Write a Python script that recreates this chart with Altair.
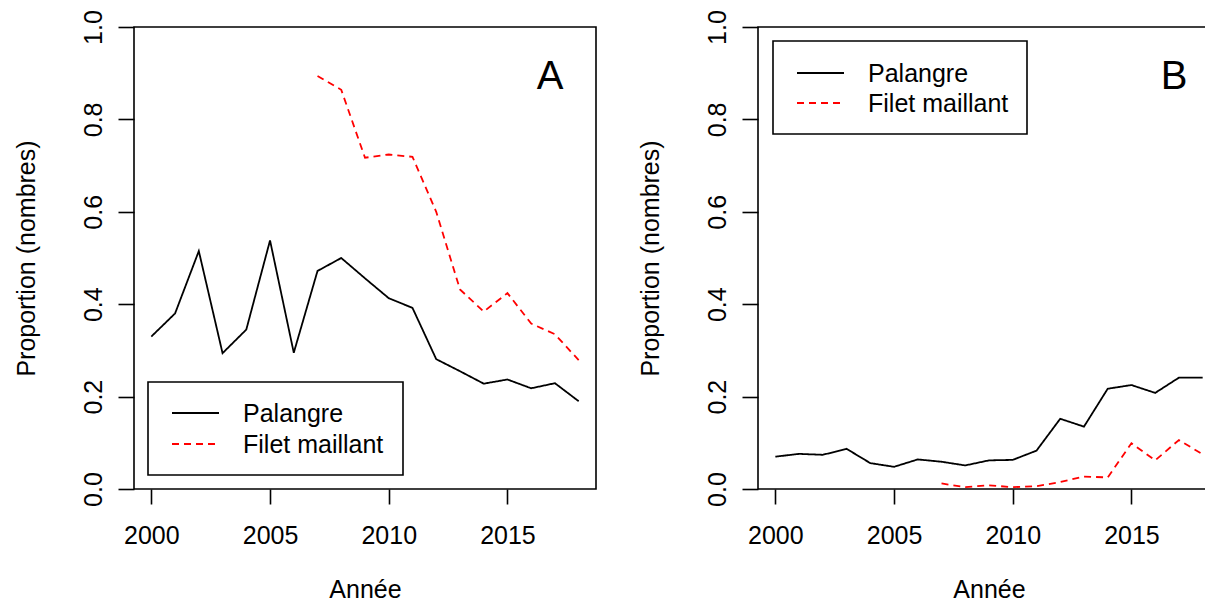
import altair as alt
import pandas as pd

FONT = "Liberation Sans"

years = list(range(2000, 2019))
filet_years = list(range(2007, 2019))
series_labels = ["Palangre", "Filet maillant"]
series_colors = ["black", "red"]
series_dash = [[1, 0], [7, 5]]
panel_labels = ["A", "B"]
x_ticks = [2000, 2005, 2010, 2015]
y_ticks = [0.0, 0.2, 0.4, 0.6, 0.8, 1.0]

a_palangre = [0.330, 0.380, 0.515, 0.294, 0.345, 0.538, 0.295, 0.472, 0.500, 0.456,
              0.413, 0.392, 0.281, 0.255, 0.228, 0.237, 0.218, 0.229, 0.190]
a_filet = [0.894, 0.864, 0.717, 0.724, 0.719, 0.600, 0.432, 0.384, 0.424, 0.358, 0.335, 0.279]

b_palangre = [0.070, 0.076, 0.074, 0.087, 0.056, 0.048, 0.064, 0.059, 0.051, 0.062,
              0.063, 0.083, 0.152, 0.135, 0.217, 0.225, 0.208, 0.241, 0.241]
b_filet = [0.012, 0.004, 0.008, 0.004, 0.006, 0.015, 0.027, 0.025, 0.099, 0.062, 0.106, 0.075]

W, H = 462, 462


def panel_df(pal, fil):
    rows = [{"year": y, "value": v, "series": series_labels[0]} for y, v in zip(years, pal)]
    rows += [{"year": y, "value": v, "series": series_labels[1]} for y, v in zip(filet_years, fil)]
    return pd.DataFrame(rows)


def make_panel(df, label, legend_box, legend_rows_y, anchor=False):
    x_axis = alt.Axis(values=x_ticks, format="d", title="Année", labelFontSize=25,
                      titleFontSize=25, titleFontWeight="normal", tickSize=15,
                      labelPadding=19, labelFlush=False, labelOverlap=False,
                      titleBaseline="alphabetic", titleY=108, titleX=W / 2,
                      titleAlign="center", grid=False, domain=False)
    y_axis = alt.Axis(values=y_ticks, format=".1f", title="Proportion (nombres)",
                      labelFontSize=25, titleFontSize=25, titleFontWeight="normal",
                      tickSize=16, labelPadding=17, labelAngle=270, labelAlign="center",
                      labelBaseline="alphabetic", labelFlush=False, labelOverlap=False,
                      titleAngle=270, titleBaseline="alphabetic", titleAlign="center",
                      titleX=-100, titleY=H / 2, grid=False, domain=False)
    lines = alt.Chart(df).mark_line(strokeWidth=1.8).encode(
        x=alt.X("year:Q", scale=alt.Scale(domain=[1999.27, 2018.73], nice=False, zero=False), axis=x_axis),
        y=alt.Y("value:Q", scale=alt.Scale(domain=[0, 1], nice=False), axis=y_axis),
        color=alt.Color("series:N", scale=alt.Scale(domain=series_labels, range=series_colors), legend=None),
        strokeDash=alt.StrokeDash("series:N", scale=alt.Scale(domain=series_labels, range=series_dash), legend=None),
        detail="series:N",
    )
    letter = alt.Chart(pd.DataFrame({"label": [label]})).mark_text(
        font=FONT, fontSize=40, align="center", baseline="alphabetic", color="black"
    ).encode(x=alt.value(416), y=alt.value(62), text="label:N")

    bx0, bx1, by0, by1 = legend_box
    box = alt.Chart(pd.DataFrame({"k": [0]})).mark_rect(
        fill="white", stroke="black", strokeWidth=1.6
    ).encode(x=alt.value(bx0), x2=alt.value(bx1), y=alt.value(by0), y2=alt.value(by1))
    layers = [lines, letter, box]
    for i, s in enumerate(series_labels):
        ly = legend_rows_y[i]
        sample = alt.Chart(pd.DataFrame({"series": [s]})).mark_rule(
            color=series_colors[i], strokeDash=series_dash[i], strokeWidth=1.8
        ).encode(x=alt.value(bx0 + 24), x2=alt.value(bx0 + 71), y=alt.value(ly))
        txt = alt.Chart(pd.DataFrame({"series": [s]})).mark_text(
            font=FONT, fontSize=25, align="left", baseline="alphabetic", color="black"
        ).encode(x=alt.value(bx0 + 95), y=alt.value(ly + 9), text="series:N")
        layers += [sample, txt]
    if anchor:
        # invisible layout anchor fixing the top-left bound of the drawing
        layers.append(
            alt.Chart(pd.DataFrame({"k": [0]})).mark_rect(opacity=0, fill="white").encode(
                x=alt.value(-140), x2=alt.value(-139), y=alt.value(-30), y2=alt.value(-29)
            )
        )
    return alt.layer(*layers).properties(width=W, height=H)


panel_a = make_panel(panel_df(a_palangre, a_filet), panel_labels[0], (14, 269, 355, 448), (386, 417), anchor=True)
panel_b = make_panel(panel_df(b_palangre, b_filet), panel_labels[1], (15, 269, 14, 107), (46, 76))

chart = alt.hconcat(panel_a, panel_b, spacing=162, bounds="flush").properties(
    padding={"left": -15, "top": -12, "right": -16, "bottom": 1},
).configure(font=FONT).configure_view(
    stroke="black", strokeWidth=1.6
).configure_axis(
    labelFont=FONT, titleFont=FONT, labelColor="black", titleColor="black",
    tickColor="black", tickWidth=1.6
)

chart.save("out.html", embed_options={"renderer": "svg", "actions": False})
